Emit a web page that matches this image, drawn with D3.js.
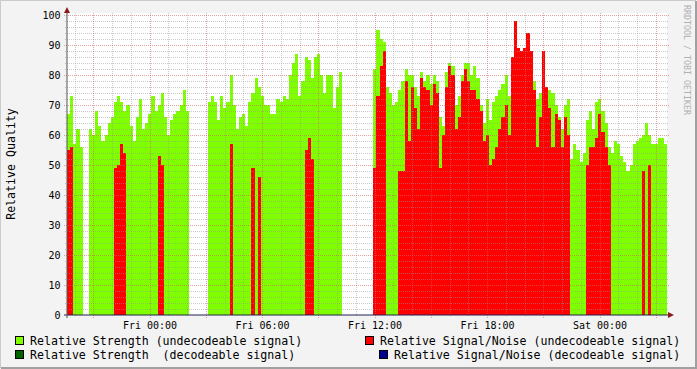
<html>
<head>
<meta charset="utf-8">
<style>
body{
  margin:0;
  padding:0;
  overflow:hidden;
  background:#f3f3f3;
}
text{
  white-space: pre;
}
</style>
</head>
<body>
<div id="graph"></div>
<script src="https://cdnjs.cloudflare.com/ajax/libs/d3/7.8.5/d3.min.js"></script>
<script>
const _ = null;                                   // no sample (gap)

//========== DATA =============
const startTime = new Date(2010, 0, 14, 19, 36);  // Thu 19:36, left edge of the plot
const endTime = new Date(2010, 0, 16, 3, 36);     // Sat 03:36, right edge
const stepMinutes = 10;                           // one value every 10 minutes

const strengthUndecodeable = [
  67,73,57,62,56,_,_,62,60,68,
  63,58,60,64,66,71,73,71,68,70,
  63,58,66,72,62,64,67,73,68,70,
  74,66,60,65,67,68,70,75,68,_,
  _,_,_,_,_,71,73,71,65,73,
  69,71,80,70,62,66,67,63,71,74,
  79,76,73,70,70,67,67,72,71,73,
  72,80,84,87,73,78,86,85,79,86,
  87,80,74,80,80,69,76,81,_,_,
  _,_,_,_,_,_,_,_,82,95,
  92,91,76,74,70,71,75,78,82,80,
  80,76,73,81,78,80,77,80,78,66,
  63,81,84,83,70,73,80,84,84,80,
  83,79,70,64,72,65,71,73,75,77,
  80,73,80,80,80,80,80,80,79,78,
  72,74,75,75,75,74,70,66,62,70,
  72,52,57,55,51,54,65,68,62,71,
  72,68,64,56,54,58,57,53,51,48,
  50,57,58,59,60,64,60,57,57,59,
  59,57
];

const snrUndecodeable = [
  55,56,_,_,_,_,_,_,_,_,
  _,_,_,_,_,49,50,57,54,_,
  _,_,_,_,_,_,_,_,_,53,
  50,_,_,_,_,_,_,_,_,_,
  _,_,_,_,_,_,_,_,_,_,
  _,_,57,_,_,_,_,_,_,49,
  _,46,_,_,_,_,_,_,_,_,
  _,_,_,_,_,_,55,59,52,_,
  _,_,_,_,_,_,_,_,_,_,
  _,_,_,_,_,_,_,_,49,73,
  83,88,_,_,_,_,48,48,78,58,
  76,69,62,79,76,75,70,77,74,49,
  60,76,83,80,62,66,78,82,78,75,
  75,72,68,58,60,50,52,56,62,66,
  70,60,86,98,89,88,89,94,88,75,
  56,66,88,76,69,56,67,65,56,66,
  60,_,_,_,_,_,50,56,56,59,
  67,61,56,50,_,_,_,_,_,_,
  _,_,_,_,48,_,50,_,_,_,
  _,_
];

const strengthDecodeable = [];                    // nothing decoded in this period
const snrDecodeable = [];

const yTicks = [0, 10, 20, 30, 40, 50, 60, 70, 80, 90, 100];
const yMinor = [2,4,6,8,12,14,16,18,22,24,26,28,32,34,36,38,42,44,46,48,52,54,56,58,62,64,66,68,72,74,76,78,82,84,86,88,92,94,96,98];

const legendLeft = ["Relative Strength (undecodeable signal)", "Relative Strength  (decodeable signal)"];
const legendRight = ["Relative Signal/Noise (undecodeable signal)", "Relative Signal/Noise (decodeable signal)"];

//========== SVG VIEW =============
const width = 697, height = 369;
const mono = "'DejaVu Sans Mono', monospace";

var svg = d3.select("#graph").append("svg")
    .attr("width", width).attr("height", height);

svg.append("rect").attr("width", width).attr("height", height).attr("fill", "#f3f3f3");
// 3d frame like rrdtool
svg.append("path").attr("d", "M0,368 V0 H696").attr("fill", "none").attr("stroke", "#cbcbcb").attr("stroke-width", 2);
svg.append("path").attr("d", "M1,368 H696 V1").attr("fill", "none").attr("stroke", "#a0a0a0").attr("stroke-width", 2);

var x = d3.scaleTime().domain([startTime, endTime]).range([67, 667]);
var y = d3.scaleLinear().domain([0, 100]).range([315, 15]);

svg.append("rect")                                // white canvas
    .attr("x", x.range()[0]).attr("y", 13)
    .attr("width", x.range()[1] - x.range()[0]).attr("height", y(0) - 13)
    .attr("fill", "white");

//========== SERIES =============
const stepPoints = values => {                    // two points per sample -> step shape
  const pts = [];
  values.forEach((v, i) => {
    if (v === null) { pts.push(null); return; }
    pts.push({t: d3.timeMinute.offset(startTime, i * stepMinutes), v: v});
    pts.push({t: d3.timeMinute.offset(startTime, (i + 1) * stepMinutes), v: v});
  });
  return pts;
};

var area = d3.area()
    .defined(d => d !== null)
    .x(d => x(d.t))
    .y0(y(0))
    .y1(d => y(d.v));

var series = [
  {values: strengthUndecodeable, color: "#7fff00"},
  {values: snrUndecodeable, color: "#ff0000"},
  {values: strengthDecodeable, color: "#006400"},
  {values: snrDecodeable, color: "#000090"}
];

svg.selectAll("path.series")
  .data(series)
  .enter().append("path")
    .attr("class", "series")
    .attr("d", d => area(stepPoints(d.values)))
    .attr("fill", d => d.color)
    .attr("shape-rendering", "crispEdges");

//========== GRID =============
var grid = svg.append("g").attr("shape-rendering", "crispEdges");
var majorHours = x.ticks(d3.timeHour.every(3)).map(t => +t);

grid.selectAll("line.hmin").data(yMinor).enter().append("line")
    .attr("x1", 65).attr("x2", 669)
    .attr("y1", d => y(d) + 0.5).attr("y2", d => y(d) + 0.5)
    .attr("stroke", "rgba(150,150,150,0.5)").attr("stroke-dasharray", "1,1");

grid.selectAll("line.vmin").data(x.ticks(d3.timeHour.every(1)).filter(t => majorHours.indexOf(+t) < 0)).enter().append("line")
    .attr("y1", 13).attr("y2", 317)
    .attr("x1", d => Math.round(x(d)) + 0.5).attr("x2", d => Math.round(x(d)) + 0.5)
    .attr("stroke", "rgba(150,150,150,0.5)").attr("stroke-dasharray", "1,1");

grid.selectAll("line.hmaj").data(yTicks.filter(d => d > 0)).enter().append("line")
    .attr("x1", 64).attr("x2", 669)
    .attr("y1", d => y(d) + 0.5).attr("y2", d => y(d) + 0.5)
    .attr("stroke", "rgba(205,100,100,0.6)").attr("stroke-dasharray", "1,1");

grid.selectAll("line.vmaj").data(x.ticks(d3.timeHour.every(3))).enter().append("line")
    .attr("y1", 13).attr("y2", 318)
    .attr("x1", d => Math.round(x(d)) + 0.5).attr("x2", d => Math.round(x(d)) + 0.5)
    .attr("stroke", "rgba(205,100,100,0.6)").attr("stroke-dasharray", "1,1");

//========== AXES =============
svg.append("line").attr("x1", 64).attr("x2", 670).attr("y1", y(0)).attr("y2", y(0))
    .attr("stroke", "#202050").attr("stroke-width", 1);
svg.append("line").attr("x1", 67).attr("x2", 67).attr("y1", 318).attr("y2", 11)
    .attr("stroke", "#555").attr("stroke-width", 1);
svg.append("path").attr("d", "M668,312 L674,315 L668,318 Z").attr("fill", "#8b1a1a");   // x arrow
svg.append("path").attr("d", "M64,13 L67,7 L70,13 Z").attr("fill", "#8b1a1a");          // y arrow

var xAxis = svg.append("g")
    .attr("transform", "translate(0," + y(0) + ")")
    .call(d3.axisBottom(x).ticks(d3.timeHour.every(6)).tickFormat(d3.timeFormat("%a %H:%M")).tickSize(0).tickPadding(6.9));

var yAxis = svg.append("g")
    .attr("transform", "translate(67,0)")
    .call(d3.axisLeft(y).tickValues(yTicks).tickSize(0).tickPadding(6.5));

[xAxis, yAxis].forEach(a => {
  a.select(".domain").remove();
  a.selectAll("text").attr("font-family", mono).attr("font-size", 10).attr("fill", "#000");
});

svg.append("text")                                // vertical title
    .attr("transform", "translate(14.5,164) rotate(-90)")
    .attr("text-anchor", "middle")
    .attr("font-family", mono).attr("font-size", 11.6)
    .text("Relative Quality");

svg.append("text")                                // watermark
    .attr("transform", "translate(684,5) rotate(90)")
    .attr("font-family", mono).attr("font-size", 9.5)
    .attr("textLength", 110).attr("lengthAdjust", "spacingAndGlyphs")
    .attr("fill", "#b0b0b0")
    .text("RRDTOOL / TOBI OETIKER");

//========== LEGEND =============
var legend = svg.append("g").attr("font-family", mono).attr("font-size", 11.6);

const legendRow = (label, color, bx, by, tx) => {
  legend.append("rect").attr("x", bx + 0.5).attr("y", by + 0.5).attr("width", 8).attr("height", 8)
      .attr("fill", color).attr("stroke", "#000").attr("shape-rendering", "crispEdges");
  legend.append("text").attr("x", tx).attr("y", by + 9.2).text(label);
};

legendRow(legendLeft[0], series[0].color, 15, 336, 30);
legendRow(legendLeft[1], series[2].color, 15, 350, 30);
legendRow(legendRight[0], series[1].color, 365, 336, 380);
legendRow(legendRight[1], series[3].color, 379, 350, 394);
</script>
</body>
</html>
